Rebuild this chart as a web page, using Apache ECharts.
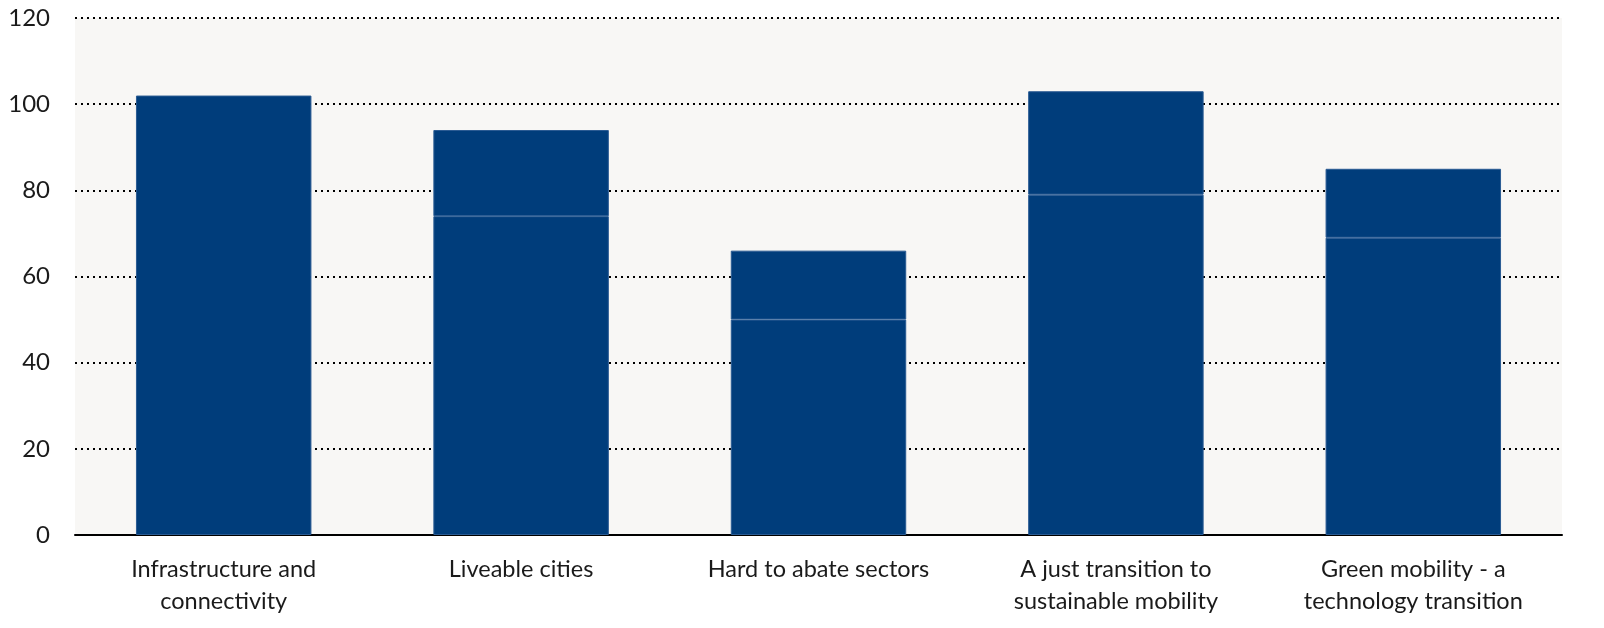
<!DOCTYPE html>
<html>
<head>
<meta charset="utf-8">
<script src="https://cdn.jsdelivr.net/npm/echarts@6/dist/echarts.min.js"></script>
<style>
html,body{margin:0;padding:0;background:#fff;}
#c{width:1604px;height:628px;}
</style>
</head>
<body>
<div id="c"></div>
<script>
const categories = ['Infrastructure and\nconnectivity', 'Liveable cities', 'Hard to abate sectors', 'A just transition to\nsustainable mobility', 'Green mobility - a\ntechnology transition'];
const baseValues = [102, 74, 50, 79, 69];
const topValues = [0, 20, 16, 24, 16];
const yTicks = [0, 20, 40, 60, 80, 100, 120];

const chart = echarts.init(document.getElementById('c'));
const barStyle = { color: '#003d7b', borderColor: '#2a5b93', borderWidth: 1 };
chart.setOption({
  backgroundColor: '#ffffff',
  animation: false,
  textStyle: { fontFamily: 'Lato, "Open Sans", sans-serif' },
  grid: { left: 75, right: 42, top: 18, bottom: 93, show: true, backgroundColor: '#f8f7f5', borderWidth: 0 },
  xAxis: {
    type: 'category',
    data: categories,
    axisLine: { lineStyle: { color: '#000', width: 2 } },
    axisTick: { show: false },
    axisLabel: { color: '#1a1a1a', fontSize: 23.5, lineHeight: 32, margin: 18, interval: 0 }
  },
  yAxis: {
    type: 'value',
    min: yTicks[0],
    max: yTicks[yTicks.length - 1],
    interval: 20,
    axisLine: { show: false },
    axisTick: { show: false },
    axisLabel: { color: '#1a1a1a', fontSize: 24, margin: 25 },
    splitLine: { show: true, lineStyle: { color: '#000', type: [2, 4], width: 2 } }
  },
  series: [
    { type: 'bar', stack: 's', data: baseValues, barWidth: '59%', itemStyle: barStyle },
    { type: 'bar', stack: 's', data: topValues.map(v => v === 0 ? null : v), barWidth: '59%', itemStyle: barStyle }
  ]
});
</script>
</body>
</html>
